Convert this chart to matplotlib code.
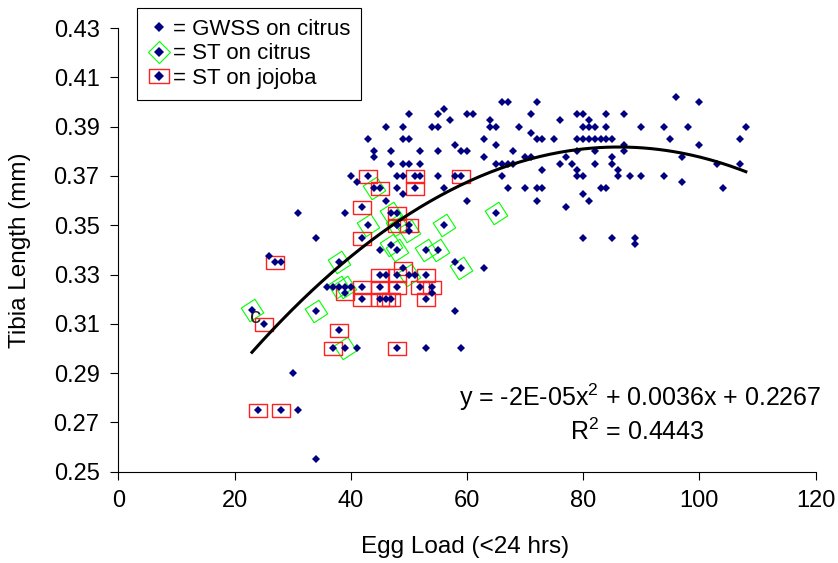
import numpy as np
import matplotlib.pyplot as plt
from matplotlib.lines import Line2D

plt.rcParams['font.family'] = ['Liberation Sans', 'DejaVu Sans']
plt.rcParams['mathtext.fontset'] = 'custom'
plt.rcParams['mathtext.rm'] = 'Liberation Sans'

# GWSS sur citrus (losanges bleus seuls)
gwss_x = [96, 100, 66, 67, 72, 56,
          60, 61, 71, 79, 80, 84, 87,
          57, 64, 76, 81,
          64, 65, 69, 80, 81, 82, 84, 90, 94, 98, 108,
          71,
          63, 72, 73, 75, 79, 80, 81, 82, 83, 84, 85, 95, 107,
          58, 65, 87, 100,
          59, 60, 68, 79, 82, 87,
          63, 70, 71, 77, 85, 97,
          65, 66, 67, 68, 76, 78, 82, 85, 103, 107,
          73, 79, 86,
          66, 79, 80, 86, 88, 90, 94, 58,
          97,
          56, 67, 70, 72, 73, 83, 84, 104,
          80, 60, 72, 81, 77,
          80, 85, 89, 89,
          58, 63, 58, 59,
          50, 55, 46, 49, 54, 55, 43, 49, 50,
          44, 47, 52, 55, 44, 47, 49, 50, 52,
          40, 48, 49, 52, 55, 41, 48, 49, 46,
          31, 39, 34, 45, 26, 28, 46, 51,
          36, 37, 40, 54, 41, 53, 30, 31, 34]
gwss_y = [0.402, 0.400, 0.400, 0.400, 0.400, 0.397,
          0.395, 0.395, 0.395, 0.395, 0.395, 0.395, 0.395,
          0.3925, 0.3925, 0.3925, 0.3925,
          0.390, 0.390, 0.390, 0.390, 0.390, 0.390, 0.390, 0.390, 0.390, 0.390, 0.390,
          0.3875,
          0.385, 0.385, 0.385, 0.385, 0.385, 0.385, 0.385, 0.385, 0.385, 0.385, 0.385, 0.385, 0.385,
          0.3825, 0.3825, 0.3825, 0.3825,
          0.380, 0.380, 0.380, 0.380, 0.380, 0.380,
          0.3775, 0.3775, 0.3775, 0.3775, 0.3775, 0.3775,
          0.375, 0.375, 0.375, 0.375, 0.375, 0.375, 0.375, 0.375, 0.375, 0.375,
          0.3725, 0.3725, 0.3725,
          0.370, 0.370, 0.370, 0.370, 0.370, 0.370, 0.370, 0.370,
          0.3675,
          0.365, 0.365, 0.365, 0.365, 0.365, 0.365, 0.365, 0.365,
          0.3625, 0.360, 0.360, 0.360, 0.3575,
          0.345, 0.345, 0.345, 0.3425,
          0.335, 0.3325, 0.315, 0.300,
          0.395, 0.395, 0.390, 0.390, 0.390, 0.390, 0.385, 0.385, 0.385,
          0.380, 0.380, 0.380, 0.380, 0.3775, 0.375, 0.375, 0.375, 0.375,
          0.370, 0.370, 0.370, 0.370, 0.370, 0.3675, 0.365, 0.3625, 0.360,
          0.355, 0.355, 0.345, 0.340, 0.3375, 0.335, 0.330, 0.330,
          0.325, 0.325, 0.325, 0.3225, 0.300, 0.300, 0.290, 0.275, 0.255]

# ST sur citrus (losange vert)
stc_x = [23, 34, 38, 43, 44, 47, 48, 50, 47, 48, 53, 55, 56, 59, 65, 50, 38, 39, 39]
stc_y = [0.3155, 0.315, 0.335, 0.350, 0.365, 0.355, 0.350, 0.3475, 0.342, 0.340,
         0.340, 0.340, 0.350, 0.3325, 0.355, 0.330, 0.325, 0.325, 0.300]

# ST sur jojoba (cadre rouge)
stj_x = [24, 28, 25, 27, 37, 38, 48,
         42, 42, 43, 45, 51, 51, 59,
         48, 48, 50,
         49, 45, 48, 53,
         39, 42, 45, 48, 52, 54,
         42, 45, 46, 47, 53]
stj_y = [0.275, 0.275, 0.310, 0.335, 0.300, 0.3075, 0.300,
         0.3575, 0.345, 0.370, 0.365, 0.370, 0.365, 0.370,
         0.355, 0.350, 0.350,
         0.3325, 0.330, 0.330, 0.330,
         0.3225, 0.325, 0.325, 0.325, 0.325, 0.325,
         0.320, 0.320, 0.320, 0.320, 0.320]

# Courbe de tendance polynomiale (Excel)
coef = [-2.09e-05, 0.0036, 0.2267]
x_min, x_max = 23, 108

bleu = '#000080'
ang = np.deg2rad(33)
carre = np.array([[-1, -1], [1, -1], [1, 1], [-1, 1], [-1, -1]], float)
rot = np.array([[np.cos(ang), -np.sin(ang)], [np.sin(ang), np.cos(ang)]])
losange_vert = [tuple(p) for p in carre @ rot.T]
cadre = [(-1, -0.72), (1, -0.72), (1, 0.72), (-1, 0.72), (-1, -0.72)]

fig = plt.figure(figsize=(8.38, 5.63), dpi=100)
ax = fig.add_axes([0.1412, 0.1622, 0.832, 0.788])

pt = dict(ls='none', marker='D', ms=4.2, mfc=bleu, mew=0, zorder=4)
ax.plot(gwss_x, gwss_y, **pt)
ax.plot(stc_x, stc_y, **pt)
ax.plot(stj_x, stj_y, **pt)
ax.plot(stc_x, stc_y, ls='none', marker=losange_vert, ms=16.2, mfc='none',
        mec='#00FF00', mew=0.8, zorder=3)
ax.plot(stj_x, stj_y, ls='none', marker=cadre, ms=13, mfc='none',
        mec='#FF2020', mew=1.0, zorder=3)

xt = np.linspace(x_min, x_max, 200)
ax.plot(xt, np.polyval(coef, xt), color='black', lw=2.2, zorder=5)

ax.text(23.6, 0.3124, 'c', fontsize=16, ha='center', va='center', color='#202020')

ax.set_xlim(0, 120)
ax.set_ylim(0.25, 0.43)
ax.set_xticks(np.arange(0, 121, 20))
ax.set_yticks(np.arange(0.25, 0.431, 0.02))
ax.set_yticklabels(['%.2f' % v for v in np.arange(0.25, 0.431, 0.02)])
for s in ['top', 'right']:
    ax.spines[s].set_visible(False)
for s in ['left', 'bottom']:
    ax.spines[s].set_linewidth(0.8)
ax.tick_params(direction='out', length=5.5, width=0.8, labelsize=17, pad=8)

ax.set_xlabel('Egg Load (<24 hrs)', fontsize=17.5)
ax.set_ylabel('Tibia Length (mm)', fontsize=17.5)
ax.xaxis.set_label_coords(0.497, -0.145)
ax.yaxis.set_label_coords(-0.125, 0.5)

ax.text(0.748, 0.168, 'y = -2E-05x$^2$ + 0.0036x + 0.2267', transform=ax.transAxes,
        fontsize=18, ha='center', va='center')
ax.text(0.745, 0.089, 'R$^2$ = 0.4443', transform=ax.transAxes,
        fontsize=18, ha='center', va='center')

h1 = Line2D([], [], ls='none', marker='D', ms=4.8, mfc=bleu, mew=0)
h2 = (Line2D([], [], ls='none', marker='D', ms=11.5, mfc='none', mec='#00FF00', mew=0.8),
      Line2D([], [], ls='none', marker='D', ms=4.8, mfc=bleu, mew=0))
h3 = (Line2D([], [], ls='none', marker=cadre, ms=14, mfc='none', mec='#FF2020', mew=1.0),
      Line2D([], [], ls='none', marker='D', ms=4.8, mfc=bleu, mew=0))
leg = fig.legend([h1, h2, h3], ['= GWSS on citrus', '= ST on citrus', '= ST on jojoba'],
                 loc='upper left', bbox_to_anchor=(0.1635, 0.9858), borderaxespad=0,
                 fontsize=16, fancybox=False, framealpha=1, edgecolor='black',
                 borderpad=0.5, handlelength=1.0, handletextpad=0.1, labelspacing=0.15)
leg.get_frame().set_linewidth(0.8)

fig.savefig('out.png', dpi=100)
